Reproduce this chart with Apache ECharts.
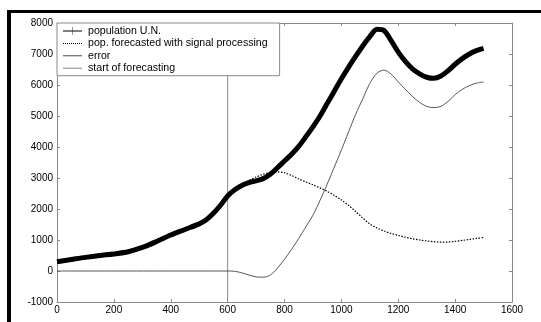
<!DOCTYPE html>
<html>
<head>
<meta charset="utf-8">
<script src="https://cdn.jsdelivr.net/npm/echarts@6/dist/echarts.min.js"></script>
<style>html,body{margin:0;padding:0;background:#fff}#c{width:541px;height:322px}</style>
</head>
<body>
<div id="c"></div>
<script>
// data
var popX = [0,50,100,150,200,250,300,350,400,450,500,525,550,575,600,625,650,675,700,725,750,775,800,825,850,875,900,925,950,975,1000,1025,1050,1075,1100,1125,1150,1175,1200,1225,1250,1275,1300,1325,1350,1375,1400,1425,1450,1475,1500];
var popY = [300,370,440,500,550,620,760,950,1160,1340,1520,1650,1860,2120,2420,2620,2760,2850,2910,2980,3120,3330,3550,3770,4020,4330,4650,5000,5400,5800,6200,6570,6920,7260,7560,7800,7760,7430,7060,6760,6520,6360,6250,6215,6290,6460,6670,6850,7000,7110,7180];
var fcX = [600,625,650,675,700,725,750,775,800,825,850,875,900,925,950,975,1000,1025,1050,1075,1100,1125,1150,1175,1200,1225,1250,1275,1300,1325,1350,1375,1400,1425,1450,1475,1500];
var fcY = [2420,2620,2780,2920,3030,3120,3180,3200,3170,3080,2970,2870,2780,2680,2570,2440,2290,2120,1920,1710,1520,1390,1290,1210,1150,1090,1040,1000,970,945,930,935,955,985,1020,1050,1080];
var errX = [0,550,575,600,625,650,675,700,725,750,775,800,825,850,875,900,925,950,975,1000,1025,1050,1075,1100,1125,1150,1175,1200,1225,1250,1275,1300,1325,1350,1375,1400,1425,1450,1475,1500];
var errY = [0,0,0,0,-10,-60,-130,-190,-200,-130,90,380,700,1050,1420,1800,2280,2800,3350,3900,4480,5050,5550,6050,6380,6480,6350,6100,5860,5630,5440,5310,5270,5310,5470,5690,5860,5980,6060,6100];
var startX = [600,600];
var startY = [-1000,8000];
var seriesNames = ['population U.N.','pop. forecasted with signal processing','error','start of forecasting'];
var xTicks = {min:0,max:1600,interval:200};
var yTicks = {min:-1000,max:8000,interval:1000};

function pairs(xs, ys){ return xs.map(function(x,i){ return [x, ys[i]]; }); }

var font = 'Liberation Sans, Arial, sans-serif';
var axisCol = '#8a8a8a';
var chart = echarts.init(document.getElementById('c'));
var dotIcon = 'path://' + (function(){var s='';for(var i=0;i<10;i++){s+='M'+(i*2)+',0H'+(i*2+1)+'V1H'+(i*2)+'Z';}return s;})();
chart.setOption({
  animation:false,
  backgroundColor:'#fff',
  textStyle:{fontFamily:font},
  grid:{left:57,right:29,top:23,bottom:20,containLabel:false},
  legend:{
    orient:'vertical', left:57, top:23,
    itemWidth:19, itemHeight:8, itemGap:1.4,
    padding:[2.5,12,2,6],
    backgroundColor:'#fff', borderColor:'#8a8a8a', borderWidth:1, borderRadius:0,
    textStyle:{fontSize:10.6,color:'#000',fontFamily:font,lineHeight:9,padding:[0,0,0,1]},
    data:[
      {name:seriesNames[0], icon:'path://M0,3.4H19V4.6H0Z M9.3,0H9.7V8H9.3Z', itemStyle:{color:'#000',borderWidth:0}},
      {name:seriesNames[1], icon:dotIcon, itemStyle:{color:'#000',borderWidth:0}},
      {name:seriesNames[2], icon:'path://M0,0H19V0.9H0Z', itemStyle:{color:'#333',borderWidth:0}},
      {name:seriesNames[3], icon:'path://M0,0H19V0.9H0Z', itemStyle:{color:'#777',borderWidth:0}}
    ]
  },
  xAxis:[
    {type:'value', min:xTicks.min, max:xTicks.max, interval:xTicks.interval,
     axisLine:{onZero:false,lineStyle:{color:axisCol,width:1}},
     axisTick:{inside:true,length:3,lineStyle:{color:axisCol}},
     axisLabel:{color:'#000',fontSize:10,margin:3,fontFamily:font,formatter:function(v){return String(v);}},
     splitLine:{show:false}},
    {type:'value', position:'top', min:xTicks.min, max:xTicks.max, interval:xTicks.interval,
     axisLine:{onZero:false,lineStyle:{color:axisCol,width:1}},
     axisTick:{inside:true,length:3,lineStyle:{color:axisCol}},
     axisLabel:{show:false}, splitLine:{show:false}}
  ],
  yAxis:[
    {type:'value', min:yTicks.min, max:yTicks.max, interval:yTicks.interval,
     axisLine:{show:true,onZero:false,lineStyle:{color:axisCol,width:1}},
     axisTick:{show:true,inside:true,length:3,lineStyle:{color:axisCol}},
     axisLabel:{color:'#000',fontSize:10,margin:4,fontFamily:font,formatter:function(v){return String(v);}},
     splitLine:{show:false}},
    {type:'value', position:'right', min:yTicks.min, max:yTicks.max, interval:yTicks.interval,
     axisLine:{show:true,onZero:false,lineStyle:{color:axisCol,width:1}},
     axisTick:{show:true,inside:true,length:3,lineStyle:{color:axisCol}},
     axisLabel:{show:false}, splitLine:{show:false}}
  ],
  graphic:[
    {type:'rect', shape:{x:7,y:10,width:534,height:3}, style:{fill:'#000'}, z:100},
    {type:'rect', shape:{x:7,y:10,width:4,height:312}, style:{fill:'#000'}, z:100}
  ],
  series:[
    {name:seriesNames[0], type:'line', data:pairs(popX,popY), smooth:0.3, showSymbol:false, symbol:'none',
     lineStyle:{color:'#000',width:5}, itemStyle:{color:'#000'}, z:5},
    {name:seriesNames[1], type:'line', data:pairs(fcX,fcY), smooth:0.3, showSymbol:false, symbol:'none',
     lineStyle:{color:'#000',width:1.2,type:[1.5,1.5]}, itemStyle:{color:'#000'}, z:4},
    {name:seriesNames[2], type:'line', data:pairs(errX,errY), smooth:0.3, showSymbol:false, symbol:'none',
     lineStyle:{color:'#444',width:0.9}, itemStyle:{color:'#333'}, z:3},
    {name:seriesNames[3], type:'line', data:pairs(startX,startY), showSymbol:false, symbol:'none',
     lineStyle:{color:'#888',width:1}, itemStyle:{color:'#777'}, z:2}
  ]
});
</script>
</body>
</html>
